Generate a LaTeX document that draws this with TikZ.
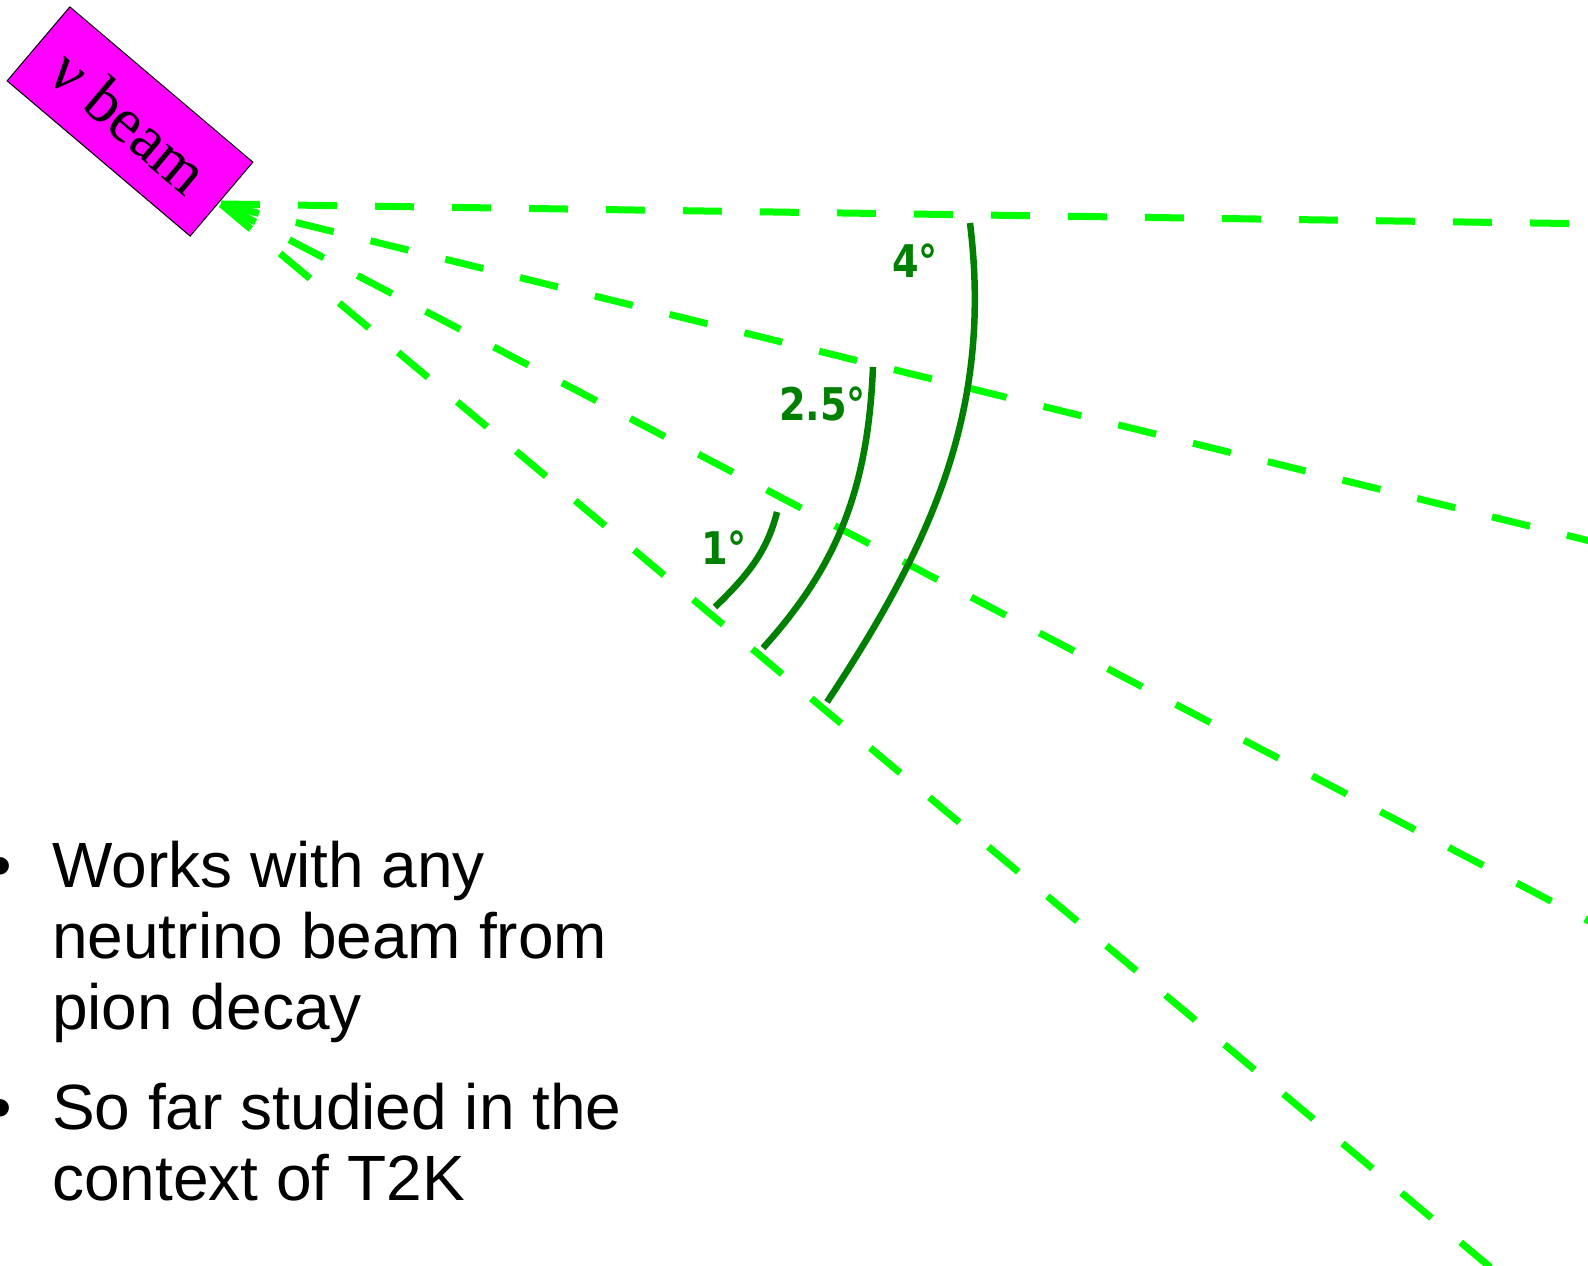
\documentclass[tikz,border=0pt]{standalone}
\usepackage{fontspec}
\setmainfont{Liberation Sans}
\newfontfamily\beamfont{Liberation Serif}
\newfontfamily\lblfont{DejaVu Sans Bold}[FakeStretch=0.85]
\usetikzlibrary{calc}
\definecolor{raygreen}{RGB}{0,255,0}
\definecolor{arcgreen}{RGB}{0,128,0}
\definecolor{beammag}{RGB}{255,0,255}
\begin{document}
\begin{tikzpicture}[x=1pt,y=-1pt,
  ray/.style={draw=raygreen, line width=7pt, dash pattern=on 39pt off 38pt},
  anglearc/.style={draw=arcgreen, line width=6.5pt},
  anglelbl/.style={text=arcgreen, font=\lblfont\fontsize{45}{54}\selectfont, inner sep=0pt, anchor=base west},
  bullettext/.style={font=\fontsize{64}{71}\selectfont, inner sep=0pt, anchor=base west},
  beambox/.style={draw=black, line width=1pt, fill=beammag, minimum width=240pt, minimum height=97pt, inner sep=0pt, rotate=-40.3, font=\beamfont\fontsize{64}{70}\selectfont}
]
\useasboundingbox (0,0) rectangle (1588,1266);
\clip (0,0) rectangle (1588,1266);
\fill[white] (0,0) rectangle (1588,1266);

\coordinate (src) at (221,204);
\coordinate (e1) at ($(src)+(0.83:2000)$);
\coordinate (e2) at ($(src)+(13.83:2000)$);
\coordinate (e3) at ($(src)+(27.66:2000)$);
\coordinate (e4) at ($(src)+(39.95:2000)$);

\draw[ray] (src) -- (e1);
\draw[ray] (src) -- (e2);
\draw[ray] (src) -- (e3);
\draw[ray] (src) -- (e4);

\node[beambox] (beam) at (130,121.5) {ν beam};

\draw[anglearc] (970,223) .. controls (993,410) and (931.5,544) .. (827,702);
\draw[anglearc] (873,367) .. controls (868,485) and (840,563) .. (763,648);
\draw[anglearc] (777,512) .. controls (767,553) and (745,578) .. (715,607);

\node[anglelbl] (l4) at (892,277) {4°};
\node[anglelbl] (l25) at (779,420) {2.5°};
\node[anglelbl] (l1) at (701,564) {1°};

\node[bullettext] (d1) at (-11,887) {•};
\node[bullettext] (t1) at (52,887) {Works with any};
\node[bullettext] (t2) at (52,958) {neutrino beam from};
\node[bullettext] (t3) at (52,1029) {pion decay};
\node[bullettext] (d2) at (-11,1129) {•};
\node[bullettext] (t4) at (52,1129) {So far studied in the};
\node[bullettext] (t5) at (52,1200) {context of T2K};
\end{tikzpicture}
\end{document}
